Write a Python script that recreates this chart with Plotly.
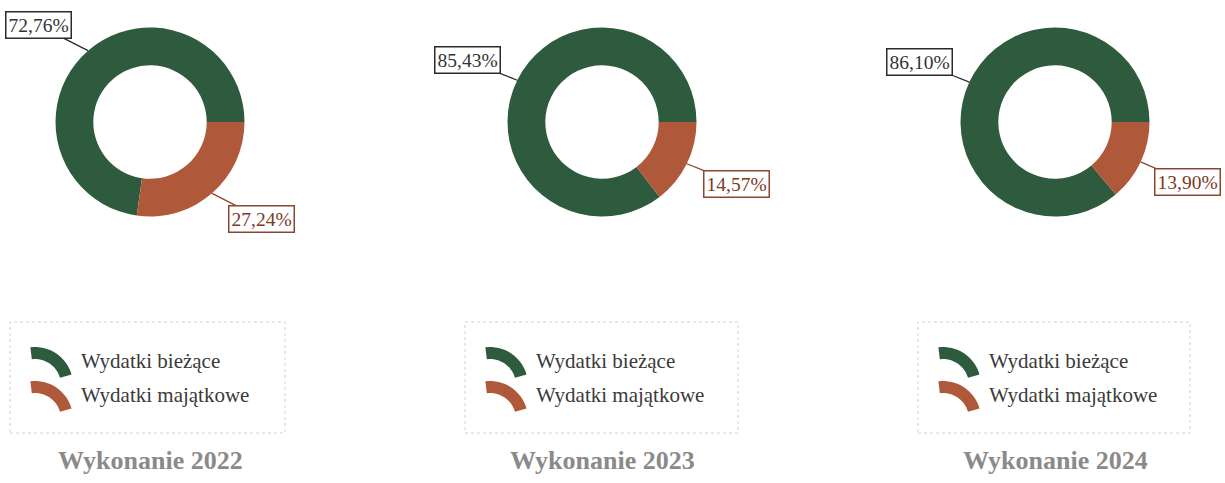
import math
import plotly.graph_objects as go

# ---- data ----
categories = ["Wydatki bieżące", "Wydatki majątkowe"]
years = ["2022", "2023", "2024"]
biezace = [72.76, 85.43, 86.10]
majatkowe = [27.24, 14.57, 13.90]
colors = ["#2e5a3d", "#b0593a"]
label_text_colors = ["#333333", "#7a3a24"]
label_border_colors = ["#2a2a2a", "#8a4630"]

W, H = 1225, 483
centers_px = [150, 602, 1055]
cy_px = 122
R = 94.5
legend_box_left = [10, 465, 918]
legend_box_right = [285, 738, 1190]
legend_box_top, legend_box_bottom = 322, 433
legend_rows_px = [361, 395]


def px2paper(x, y):
    return x / W, 1 - y / H


def fmt(v):
    return f"{v:.2f}".replace(".", ",") + "%"


def arc_icon_path(cx, cy, r_out, r_in, a0, a1, n=16):
    pts = []
    for j in range(n + 1):
        a = math.radians(a0 + (a1 - a0) * j / n)
        pts.append(px2paper(cx + r_out * math.cos(a), cy - r_out * math.sin(a)))
    for j in range(n + 1):
        a = math.radians(a1 + (a0 - a1) * j / n)
        pts.append(px2paper(cx + r_in * math.cos(a), cy - r_in * math.sin(a)))
    return "M " + " L ".join(f"{x:.5f},{y:.5f}" for x, y in pts) + " Z"


fig = go.Figure()
annotations = []
shapes = []

for i, yr in enumerate(years):
    vals = [biezace[i], majatkowe[i]]
    total = sum(vals)
    cx = centers_px[i]
    # first slice runs counterclockwise from 3 o'clock (plotly ccw: first slice ends at rotation)
    rot = 90 + vals[1] / total * 360.0
    fig.add_trace(go.Pie(
        labels=categories,
        values=vals,
        hole=0.6,
        sort=False,
        direction="counterclockwise",
        rotation=rot,
        textinfo="none",
        hoverinfo="skip",
        marker=dict(colors=colors, line=dict(width=0)),
        domain=dict(x=[(cx - R) / W, (cx + R) / W],
                    y=[1 - (cy_px + R) / H, 1 - (cy_px - R) / H]),
        showlegend=False,
    ))
    # value labels with leader lines
    start = 0.0
    for k, v in enumerate(vals):
        span = v / total * 360.0
        mid = math.radians(start + span / 2)  # counterclockwise from 3 o'clock
        start += span
        px = cx + R * math.cos(mid)
        py = cy_px - R * math.sin(mid)
        sx = 1 if math.cos(mid) >= 0 else -1
        sy = 1 if math.sin(mid) >= 0 else -1
        ax = 50 * sx
        ay = -sy * (12 + 18 * abs(math.sin(mid)))
        half_w = 37
        if px + ax + half_w > W:
            ax = W - half_w - px - 1
        x_p, y_p = px2paper(px, py)
        annotations.append(dict(
            x=x_p, y=y_p, xref="paper", yref="paper",
            text=fmt(v), showarrow=True, arrowhead=0, arrowwidth=1.3,
            arrowcolor=label_border_colors[k],
            ax=ax, ay=ay,
            font=dict(family="Liberation Serif", size=19.5, color=label_text_colors[k]),
            bordercolor=label_border_colors[k], borderwidth=1.5, borderpad=2,
            bgcolor="white",
        ))
    # title
    tx, ty = px2paper(cx, 460)
    annotations.append(dict(
        x=tx, y=ty, xref="paper", yref="paper",
        text=f"<b>Wykonanie {yr}</b>", showarrow=False,
        font=dict(family="Liberation Serif", size=26, color="#8a8a8a"),
        xanchor="center", yanchor="middle",
    ))
    # legend frame
    x0, y1 = px2paper(legend_box_left[i], legend_box_top)
    x1, y0 = px2paper(legend_box_right[i], legend_box_bottom)
    shapes.append(dict(
        type="rect", xref="paper", yref="paper",
        x0=x0, x1=x1, y0=y0, y1=y1,
        line=dict(color="#d2d2d2", width=1, dash="dot"),
    ))
    # legend entries: arc icon + label
    for k, cat in enumerate(categories):
        ry = legend_rows_px[k]
        icx = legend_box_left[i] + 25
        icy = ry + 24
        shapes.append(dict(
            type="path", xref="paper", yref="paper",
            path=arc_icon_path(icx, icy, 38, 26, 97, 16),
            fillcolor=colors[k], line=dict(width=0),
        ))
        lx, ly = px2paper(legend_box_left[i] + 69, ry)
        annotations.append(dict(
            x=lx, y=ly, xref="paper", yref="paper",
            text=cat, showarrow=False, xanchor="left", yanchor="middle",
            font=dict(family="Liberation Serif", size=21, color="#3a3a3a"),
        ))

fig.update_layout(
    width=W, height=H, autosize=False,
    margin=dict(l=0, r=0, t=0, b=0),
    paper_bgcolor="white", plot_bgcolor="white",
    annotations=annotations, shapes=shapes,
    showlegend=False,
)

fig.write_html("out.html", config={"displayModeBar": False},
               post_script="document.body.style.margin='0';")
